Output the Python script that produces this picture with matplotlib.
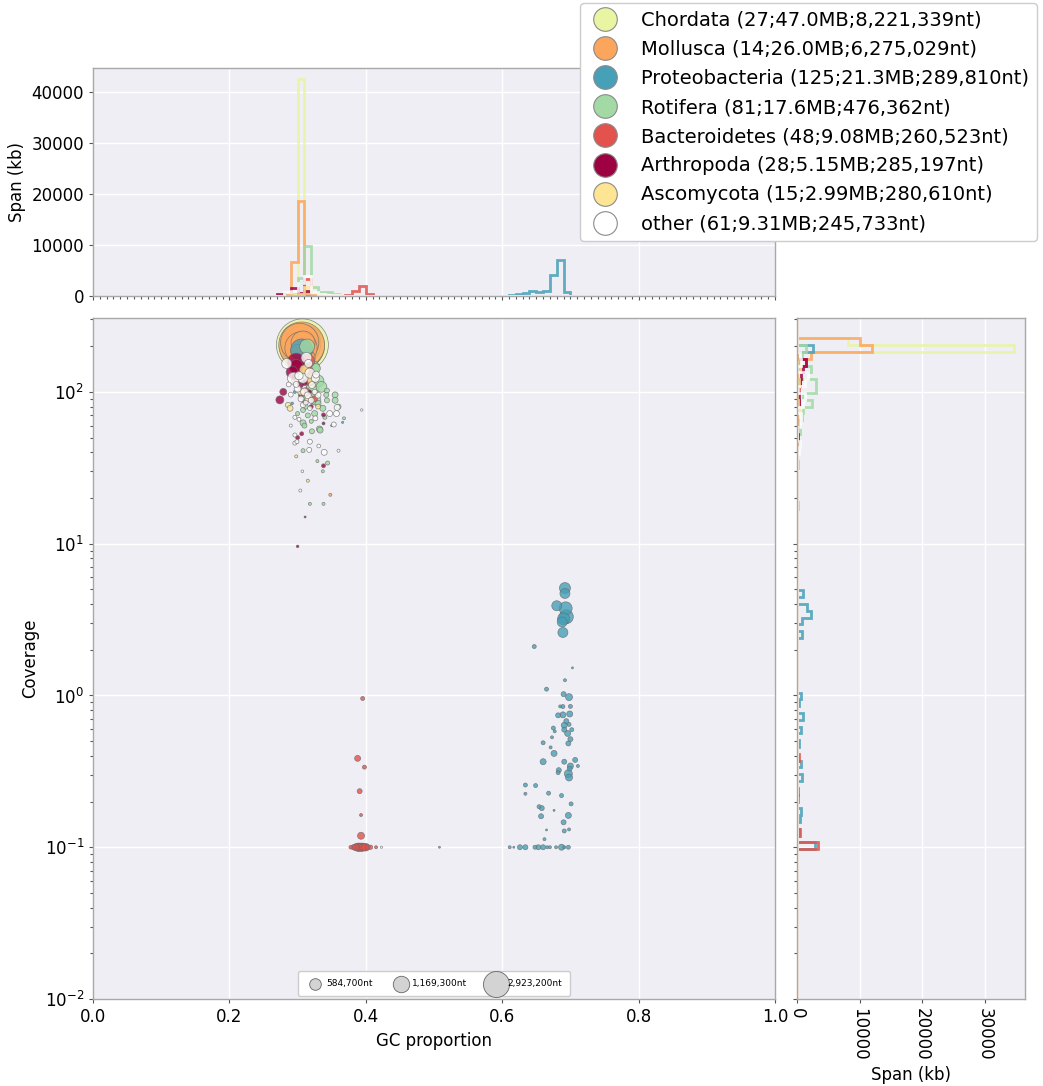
import numpy as np
import matplotlib
matplotlib.use('Agg')
import matplotlib.pyplot as plt
from matplotlib.lines import Line2D
from matplotlib.ticker import MultipleLocator, LogLocator, NullFormatter

# ---------------- data ----------------
groups = ['Chordata', 'Mollusca', 'Proteobacteria', 'Rotifera',
          'Bacteroidetes', 'Arthropoda', 'Ascomycota', 'other']
legend_labels = ['Chordata (27;47.0MB;8,221,339nt)',
                 'Mollusca (14;26.0MB;6,275,029nt)',
                 'Proteobacteria (125;21.3MB;289,810nt)',
                 'Rotifera (81;17.6MB;476,362nt)',
                 'Bacteroidetes (48;9.08MB;260,523nt)',
                 'Arthropoda (28;5.15MB;285,197nt)',
                 'Ascomycota (15;2.99MB;280,610nt)',
                 'other (61;9.31MB;245,733nt)']
colors = ['#e9f5a1', '#fca55d', '#46a0b7', '#a2d9a4',
          '#e3524c', '#9e0142', '#fee594', '#ffffff']

# scatter: GC, coverage, length (kb)
chordata_gc = [0.307, 0.306, 0.308, 0.305, 0.307, 0.304, 0.309, 0.311, 0.303, 0.302, 0.318, 0.325, 0.286]
chordata_cov = [204, 196, 200, 207, 212, 218, 188, 182, 192, 135, 110, 95, 82]
chordata_len = [11700, 8200, 8000, 6800, 5000, 3200, 900, 500, 400, 300, 250, 150, 120]

mollusca_gc = [0.306, 0.303, 0.305, 0.308, 0.300, 0.314, 0.311, 0.296, 0.310, 0.322, 0.348]
mollusca_cov = [204, 212, 195, 210, 185, 168, 150, 120, 95, 85, 21]
mollusca_len = [9100, 6300, 4500, 2500, 800, 1100, 300, 200, 60, 40, 40]

proteo_gc = [0.306, 0.292, 0.366, 0.350, 0.296, 0.508,
             0.692, 0.692, 0.680, 0.693, 0.694, 0.690, 0.688, 0.689, 0.647,
             0.703, 0.692, 0.665, 0.690, 0.698, 0.685, 0.689, 0.700, 0.682, 0.689,
             0.699, 0.694, 0.698, 0.691, 0.675, 0.677, 0.702, 0.691, 0.696, 0.673,
             0.700, 0.697, 0.660, 0.671, 0.676, 0.707, 0.711, 0.691, 0.700, 0.699,
             0.660, 0.683, 0.682, 0.697, 0.698, 0.634, 0.649, 0.634, 0.668, 0.687,
             0.701, 0.654, 0.658, 0.676, 0.657, 0.697, 0.690, 0.691, 0.698, 0.665,
             0.662,
             0.611, 0.617, 0.626, 0.634, 0.648, 0.653, 0.660, 0.666, 0.670, 0.679,
             0.687, 0.691, 0.697]
proteo_cov = [189, 84, 63, 60, 100, 0.1,
              5.1, 4.7, 3.9, 3.75, 3.3, 3.2, 3.05, 2.6, 2.1,
              1.52, 1.26, 1.10, 1.02, 0.975, 0.847, 0.845, 0.847, 0.74, 0.745,
              0.755, 0.677, 0.645, 0.636, 0.61, 0.58, 0.595, 0.595, 0.562, 0.53,
              0.515, 0.483, 0.488, 0.455, 0.415, 0.376, 0.343, 0.366, 0.343, 0.33,
              0.366, 0.322, 0.31, 0.305, 0.288, 0.257, 0.255, 0.225, 0.227, 0.219,
              0.193, 0.185, 0.181, 0.175, 0.16, 0.162, 0.146, 0.128, 0.131, 0.13,
              0.113,
              0.1, 0.1, 0.1, 0.1, 0.1, 0.1, 0.1, 0.1, 0.1, 0.1,
              0.1, 0.1, 0.1]
proteo_len = [2100, 30, 20, 20, 40, 17,
              523, 432, 432, 731, 848, 623, 432, 432, 69,
              17, 39, 69, 108, 211, 39, 69, 69, 108, 156,
              156, 108, 69, 156, 69, 39, 69, 108, 156, 39,
              108, 108, 69, 39, 156, 108, 39, 108, 156, 108,
              156, 108, 69, 277, 211, 69, 69, 39, 69, 69,
              69, 69, 108, 17, 108, 156, 108, 69, 39, 17,
              39,
              39, 17, 108, 108, 69, 108, 108, 39, 39, 39,
              156, 39, 69]

rotifera_gc = [0.314, 0.326, 0.323, 0.318, 0.330, 0.322, 0.335, 0.327, 0.355, 0.355,
               0.343, 0.342, 0.343, 0.360, 0.368, 0.332, 0.310, 0.308, 0.333, 0.321,
               0.308, 0.344, 0.329, 0.337, 0.318, 0.338, 0.330, 0.308, 0.337, 0.308,
               0.315, 0.325, 0.320, 0.340, 0.312, 0.300]
rotifera_cov = [199, 143, 146, 122, 118, 105, 108, 88, 95.6, 88,
                102, 95.6, 88, 80, 67, 57, 60, 62.5, 56, 55,
                41, 34, 35, 30, 18.3, 18.3, 84, 92, 78, 76,
                70, 72, 64, 68, 80, 72]
rotifera_len = [970, 430, 600, 700, 600, 700, 500, 400, 154, 150,
                110, 108, 108, 108, 39, 154, 108, 154, 154, 108,
                69, 69, 39, 39, 39, 39, 156, 108, 156, 108,
                108, 156, 69, 69, 108, 69]

bactero_gc = [0.316, 0.314, 0.318, 0.312, 0.320, 0.325, 0.310,
              0.3954, 0.388, 0.398, 0.391, 0.393, 0.393,
              0.378, 0.382, 0.385, 0.388, 0.390, 0.392, 0.394, 0.396, 0.398,
              0.400, 0.403, 0.407, 0.415]
bactero_cov = [160, 140, 118, 100, 130, 90, 85,
               0.955, 0.385, 0.337, 0.234, 0.163, 0.119,
               0.1, 0.1, 0.1, 0.1, 0.1, 0.1, 0.1, 0.1, 0.1,
               0.1, 0.1, 0.1, 0.1]
bactero_len = [700, 500, 400, 300, 300, 150, 100,
               69, 154, 69, 108, 39, 211,
               60, 110, 200, 280, 300, 250, 300, 250, 200,
               250, 110, 80, 40]

arthro_gc = [0.298, 0.298, 0.292, 0.279, 0.274, 0.304, 0.310, 0.305, 0.320,
             0.306, 0.300, 0.338, 0.338, 0.338, 0.311, 0.300, 0.318, 0.295]
arthro_cov = [157, 147, 135, 100, 88.6, 111, 115, 95, 80,
              53, 50, 70.6, 62, 32.6, 15, 9.6, 100, 125]
arthro_len = [1400, 850, 620, 211, 277, 154, 150, 100, 70,
              69, 69, 69, 39, 69, 17, 30, 60, 150]

asco_gc = [0.310, 0.320, 0.305, 0.315, 0.330, 0.289, 0.298, 0.315]
asco_cov = [140, 120, 100, 90, 80, 78, 37.6, 26]
asco_len = [400, 300, 200, 150, 100, 150, 40, 40]

other_gc = [0.302, 0.284, 0.316, 0.294, 0.318, 0.308, 0.326, 0.321, 0.313, 0.358,
            0.394, 0.353, 0.296, 0.302, 0.347, 0.357, 0.326, 0.296, 0.296, 0.299,
            0.318, 0.317, 0.339, 0.360, 0.304, 0.300, 0.310, 0.315, 0.305, 0.320,
            0.298, 0.325, 0.312, 0.330, 0.308, 0.318, 0.290, 0.287, 0.327, 0.423,
            0.307, 0.331, 0.290]
other_cov = [128, 154, 154, 123, 133, 123, 123, 111, 168, 79,
             76, 61, 68, 66, 72, 72, 67, 52, 46, 47,
             47, 41.5, 40, 41, 22.4, 105, 100, 95, 90, 88,
             112, 100, 85, 95, 82, 78, 96, 112, 130, 0.1,
             30, 44, 60]
other_len = [300, 430, 277, 620, 430, 430, 277, 200, 500, 154,
             25, 108, 69, 69, 154, 154, 108, 69, 69, 69,
             108, 108, 154, 39, 39, 200, 250, 200, 150, 150,
             150, 120, 100, 150, 120, 90, 100, 100, 200, 20,
             30, 60, 40]

# top histogram: GC bin centre, span (kb)
chordata_top_gc = [0.295, 0.305, 0.315, 0.325]
chordata_top_kb = [600, 42500, 900, 400]
mollusca_top_gc = [0.285, 0.295, 0.305, 0.315, 0.345]
mollusca_top_kb = [300, 6600, 18500, 500, 40]
proteo_top_gc = [0.295, 0.305, 0.355, 0.365, 0.505, 0.605, 0.615, 0.625, 0.635,
                 0.645, 0.655, 0.665, 0.675, 0.685, 0.695, 0.705]
proteo_top_kb = [40, 2600, 20, 20, 20, 60, 200, 300, 500,
                 900, 700, 1000, 4200, 7100, 800, 60]
rotifera_top_gc = [0.295, 0.305, 0.315, 0.325, 0.335, 0.345, 0.355, 0.365]
rotifera_top_kb = [300, 3500, 9800, 1800, 700, 700, 400, 60]
bactero_top_gc = [0.305, 0.315, 0.325, 0.375, 0.385, 0.395, 0.405, 0.415]
bactero_top_kb = [400, 3300, 300, 100, 1000, 2000, 300, 60]
arthro_top_gc = [0.275, 0.285, 0.295, 0.305, 0.315, 0.325, 0.335]
arthro_top_kb = [400, 200, 1500, 600, 1000, 200, 150]
asco_top_gc = [0.285, 0.295, 0.305, 0.315, 0.325, 0.335]
asco_top_kb = [150, 300, 300, 1800, 300, 100]
other_top_gc = [0.285, 0.295, 0.305, 0.315, 0.325, 0.335, 0.345, 0.355, 0.395, 0.425]
other_top_kb = [800, 900, 2600, 3900, 800, 300, 200, 150, 25, 20]

# right histogram: coverage, span (kb)
chordata_r_cov = [214, 193, 160, 120, 82, 37, 26]
chordata_r_kb = [8200, 34700, 700, 500, 300, 40, 40]
mollusca_r_cov = [214, 193, 172, 150, 120, 95, 85, 21]
mollusca_r_kb = [10100, 12000, 2200, 300, 200, 60, 40, 40]
proteo_r_cov = [193, 84, 62, 4.8, 3.9, 3.35, 3.05, 2.6, 2.1, 1.5, 1.2, 1.05, 0.98,
                0.9, 0.76, 0.62, 0.5, 0.37, 0.3, 0.22, 0.18, 0.155, 0.13, 0.113, 0.105]
proteo_r_kb = [2600, 30, 40, 900, 1650, 2300, 750, 800, 60, 17, 40, 70, 600,
               300, 1000, 600, 300, 600, 800, 200, 600, 500, 300, 40, 2900]
rotifera_r_cov = [200, 178, 140, 120, 107, 98, 87, 78, 71, 57, 45, 35, 30, 18]
rotifera_r_kb = [1400, 800, 2300, 3100, 3100, 1000, 2400, 1000, 800, 500, 300, 200, 40, 80]
bactero_r_cov = [165, 140, 118, 100, 85, 0.95, 0.38, 0.34, 0.23, 0.163, 0.12, 0.1]
bactero_r_kb = [1500, 500, 400, 300, 250, 70, 350, 70, 110, 40, 400, 3400]
arthro_r_cov = [157, 140, 125, 110, 95, 85, 62, 50, 32, 15, 9.6]
arthro_r_kb = [1400, 900, 700, 400, 300, 350, 100, 140, 70, 17, 30]
asco_r_cov = [140, 120, 100, 88, 78, 37, 26]
asco_r_kb = [400, 300, 200, 150, 250, 40, 40]
other_r_cov = [168, 154, 128, 112, 98, 85, 72, 61, 47, 41, 30, 22, 0.1]
other_r_kb = [500, 700, 1700, 1200, 1300, 900, 700, 400, 400, 300, 60, 40, 20]

size_legend_nt = [584700, 1169300, 2923200]

# ---------------- figure ----------------
scatter_data = [(chordata_gc, chordata_cov, chordata_len),
                (mollusca_gc, mollusca_cov, mollusca_len),
                (proteo_gc, proteo_cov, proteo_len),
                (rotifera_gc, rotifera_cov, rotifera_len),
                (bactero_gc, bactero_cov, bactero_len),
                (arthro_gc, arthro_cov, arthro_len),
                (asco_gc, asco_cov, asco_len),
                (other_gc, other_cov, other_len)]
top_data = [(chordata_top_gc, chordata_top_kb), (mollusca_top_gc, mollusca_top_kb),
            (proteo_top_gc, proteo_top_kb), (rotifera_top_gc, rotifera_top_kb),
            (bactero_top_gc, bactero_top_kb), (arthro_top_gc, arthro_top_kb),
            (asco_top_gc, asco_top_kb), (other_top_gc, other_top_kb)]
right_data = [(chordata_r_cov, chordata_r_kb), (mollusca_r_cov, mollusca_r_kb),
              (proteo_r_cov, proteo_r_kb), (rotifera_r_cov, rotifera_r_kb),
              (bactero_r_cov, bactero_r_kb), (arthro_r_cov, arthro_r_kb),
              (asco_r_cov, asco_r_kb), (other_r_cov, other_r_kb)]

plt.rcParams['font.family'] = ['DejaVu Sans']
plt.rcParams['font.size'] = 12

W, H = 1043, 1086
fig = plt.figure(figsize=(W / 100, H / 100), dpi=100)


def rect(x0, y0, x1, y1):
    return [x0 / W, 1 - y1 / H, (x1 - x0) / W, (y1 - y0) / H]


ax_main = fig.add_axes(rect(93, 318, 775, 999))
ax_top = fig.add_axes(rect(93, 68, 775, 296))
ax_right = fig.add_axes(rect(797, 318, 1025, 999))

face = '#eeeef4'
for ax in (ax_main, ax_top, ax_right):
    ax.set_facecolor(face)
    ax.set_axisbelow(True)
    for sp in ax.spines.values():
        sp.set_color('#a8a8a8')
        sp.set_linewidth(1.0)
    ax.tick_params(which='both', color='#555555', width=0.8, length=3, labelsize=12)
    ax.tick_params(which='minor', length=2)

ylog_min, ylog_max = -2.0, 2.487
ymin, ymax = 10 ** ylog_min, 10 ** ylog_max
SCALE = 0.12  # marker area (pt^2) per kb

# main scatter
for (g, c, l), col in zip(scatter_data, colors):
    l = np.asarray(l, dtype=float)
    order = np.argsort(-l)
    ax_main.scatter(np.asarray(g)[order], np.asarray(c)[order], s=l[order] * SCALE,
                    c=col, alpha=0.8, edgecolors='#6a6a6a', linewidths=0.5, zorder=3)
ax_main.set_yscale('log')
ax_main.set_xlim(0, 1)
ax_main.set_ylim(ymin, ymax)
ax_main.set_xticks([0, 0.2, 0.4, 0.6, 0.8, 1.0])
ax_main.set_xticklabels(['0.0', '0.2', '0.4', '0.6', '0.8', '1.0'])
ax_main.yaxis.set_major_locator(LogLocator(base=10, numticks=10))
ax_main.grid(True, which='major', color='white', linewidth=1.0)
ax_main.set_xlabel('GC proportion', fontsize=12)
ax_main.set_ylabel('Coverage', fontsize=12)

# size legend
size_handles = [ax_main.scatter([], [], s=n / 1000 * SCALE, c='#d3d3d3',
                                edgecolors='#666666', linewidths=0.6)
                for n in size_legend_nt]
size_labels = ['{:,}nt'.format(n) for n in size_legend_nt]
leg2 = ax_main.legend(size_handles, size_labels, loc='lower center', ncol=3,
                      fontsize=6.5, scatterpoints=1, frameon=True, facecolor='white',
                      edgecolor='#cccccc', framealpha=1, handletextpad=0.2,
                      columnspacing=2.2, borderpad=0.9, borderaxespad=0.3)

# top histogram
gc_bins = np.linspace(0, 1, 101)
for (g, kb), col in zip(top_data, colors):
    ax_top.hist(g, bins=gc_bins, weights=kb, histtype='step', color=col,
                linewidth=2.0, alpha=0.85)
top_max = max(np.histogram(g, bins=gc_bins, weights=kb)[0].max() for g, kb in top_data)
ax_top.set_xlim(0, 1)
ax_top.set_ylim(0, top_max * 1.05)
ax_top.set_xticks([0, 0.2, 0.4, 0.6, 0.8, 1.0])
ax_top.xaxis.set_minor_locator(MultipleLocator(0.01))
ax_top.tick_params(axis='x', which='both', labelbottom=False)
ax_top.set_yticks([0, 10000, 20000, 30000, 40000])
ax_top.grid(True, which='major', color='white', linewidth=1.0)
ax_top.set_ylabel('Span (kb)', fontsize=12)

# right histogram
cov_bins = np.logspace(ylog_min, ylog_max, 101)
for (cv, kb), col in zip(right_data, colors):
    ax_right.hist(cv, bins=cov_bins, weights=kb, histtype='step', color=col,
                  linewidth=2.0, alpha=0.85, orientation='horizontal')
right_max = max(np.histogram(cv, bins=cov_bins, weights=kb)[0].max() for cv, kb in right_data)
ax_right.set_yscale('log')
ax_right.set_ylim(ymin, ymax)
ax_right.set_xlim(0, right_max * 1.05)
ax_right.yaxis.set_major_locator(LogLocator(base=10, numticks=10))
ax_right.tick_params(axis='y', which='both', labelleft=False)
ax_right.set_xticks([0, 10000, 20000, 30000])
ax_right.set_xticklabels(['0', '10000', '20000', '30000'], rotation=-90)
ax_right.grid(True, which='major', color='white', linewidth=1.0)
ax_right.set_xlabel('Span (kb)', fontsize=12)

# group legend
handles = [Line2D([], [], linestyle='none', marker='o', markersize=17,
                  markerfacecolor=col, markeredgecolor='#8a8a8a', markeredgewidth=0.8)
           for col in colors]
fig.legend(handles, legend_labels, loc='upper left',
           bbox_to_anchor=(580 / W, 1 - 3 / H), fontsize=14, labelspacing=0.52,
           handletextpad=0.95, borderaxespad=0, frameon=True, facecolor='white',
           edgecolor='#cccccc', framealpha=1, borderpad=0.4, handlelength=1.8)

fig.savefig('out.png', dpi=100)
